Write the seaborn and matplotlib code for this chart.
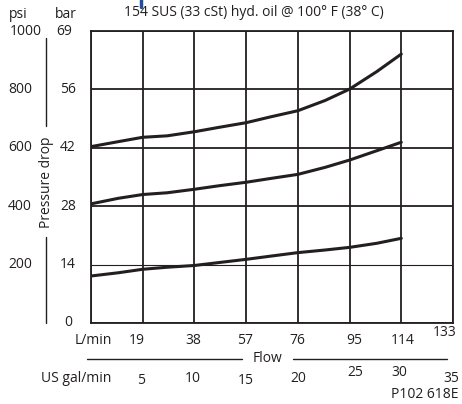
import pandas as pd
import matplotlib
matplotlib.use("Agg")
import matplotlib.pyplot as plt
import matplotlib.transforms as mtransforms
from matplotlib.lines import Line2D
import seaborn as sns

# values (flow in L/min, pressure drop in psi)
flow_pts = [0, 10, 19, 28, 38, 47, 57, 66, 76, 86, 95, 105, 114]
psi_top = [604, 621, 636, 641, 655, 670, 686, 706, 727, 762, 801, 861, 921]
psi_mid = [408, 427, 440, 446, 458, 470, 482, 495, 509, 533, 558, 590, 619]
psi_low = [161, 172, 184, 191, 197, 207, 218, 229, 241, 250, 259, 273, 290]

lpm_ticks = [19, 38, 57, 76, 95, 114, 133]
gpm_labels = ['5', '10', '15', '20', '25', '30', '35']
psi_ticks = [0, 200, 400, 600, 800, 1000]
psi_labels = ['', '200', '400', '600', '800', '1000']
bar_labels = ['0', '14', '28', '42', '56', '69']

df = pd.concat([
    pd.DataFrame({'flow': flow_pts, 'psi': psi_top, 'curve': 'top'}),
    pd.DataFrame({'flow': flow_pts, 'psi': psi_mid, 'curve': 'mid'}),
    pd.DataFrame({'flow': flow_pts, 'psi': psi_low, 'curve': 'low'}),
])

sns.set_style('white')
plt.rcParams['font.family'] = ['Open Sans', 'DejaVu Sans']
fs = 10
W, H = 462, 404

fig = plt.figure(figsize=(W / 100, H / 100), dpi=100)
ax = fig.add_axes([91 / W, 1 - 323 / H, (453 - 91) / W, (323 - 31) / H])

sns.lineplot(data=df, x='flow', y='psi', units='curve', estimator=None,
             color='#231f20', lw=2.2, ax=ax, sort=False)

ax.set_xlim(0, 133)
ax.set_ylim(0, 1000)
ax.set_xticks([0] + lpm_ticks)
ax.set_yticks(psi_ticks)
ax.tick_params(length=0, labelbottom=False, labelleft=False)
ax.set_xlabel('')
ax.set_ylabel('')
ax.grid(True, color='#231f20', lw=1.3)
for line in ax.get_ygridlines():
    if abs(line.get_ydata()[0] - 200) < 1:
        line.set_linewidth(0.8)
for s in ax.spines.values():
    s.set_color('#231f20')
    s.set_linewidth(1.3)


def fx(px):
    return px / W


def fy(py):
    return 1 - py / H


ytr = mtransforms.blended_transform_factory(fig.transFigure, ax.transData)
tc = '#231f20'

# left scales
fig.text(fx(18), fy(15), 'psi', ha='center', va='center', fontsize=fs, color=tc)
fig.text(fx(66), fy(15), 'bar', ha='center', va='center', fontsize=fs, color=tc)
for v, p, b in zip(psi_ticks, psi_labels, bar_labels):
    yy = v if v < 1000 else 997
    ax.text(fx(20) if v < 1000 else fx(26), yy, p, transform=ytr, ha='center', va='center',
            fontsize=fs, color=tc)
    ax.text(fx(68) if v < 1000 else fx(64), yy, b, transform=ytr, ha='center', va='center',
            fontsize=fs, color=tc)

fig.add_artist(Line2D([fx(46), fx(46)], [fy(38), fy(126)], color=tc, lw=1.0))
fig.add_artist(Line2D([fx(46), fx(46)], [fy(237), fy(323)], color=tc, lw=1.0))
fig.text(fx(47), fy(182), 'Pressure drop', rotation=90, ha='center', va='center',
         fontsize=fs, color=tc)

# bottom scales
fig.text(fx(93), fy(340), 'L/min', ha='center', va='center', fontsize=fs, color=tc)
lpm_x = [137, 193, 245, 297, 354, 403, 445]
lpm_y = [340, 340, 340, 340, 340, 340, 332]
for t, px, py in zip(lpm_ticks, lpm_x, lpm_y):
    fig.text(fx(px), fy(py), str(t), ha='center', va='center', fontsize=fs, color=tc)

fig.add_artist(Line2D([fx(87), fx(242)], [fy(359), fy(359)], color=tc, lw=1.0))
fig.add_artist(Line2D([fx(293), fx(447)], [fy(359), fy(359)], color=tc, lw=1.0))
fig.text(fx(267), fy(359), 'Flow', ha='center', va='center', fontsize=fs, color=tc)

fig.text(fx(76), fy(378), 'US gal/min', ha='center', va='center', fontsize=fs, color=tc)
gpm_x = [141, 193, 246, 298, 355, 399, 451]
gpm_y = [380, 378, 381, 378, 373, 372, 379]
for t, px, py in zip(gpm_labels, gpm_x, gpm_y):
    fig.text(fx(px), fy(py), t, ha='center', va='center', fontsize=fs, color=tc)

fig.text(fx(425), fy(394), 'P102 618E', ha='center', va='center', fontsize=fs, color=tc)

# title
fig.text(fx(124), fy(13), '154 SUS (33 cSt) hyd. oil @ 100° F (38° C)', ha='left',
         va='center', fontsize=fs, color=tc)
fig.add_artist(Line2D([fx(141), fx(141)], [fy(0), fy(7)], color='#1f4e9c', lw=2.5))

fig.savefig('out.png', dpi=100)
